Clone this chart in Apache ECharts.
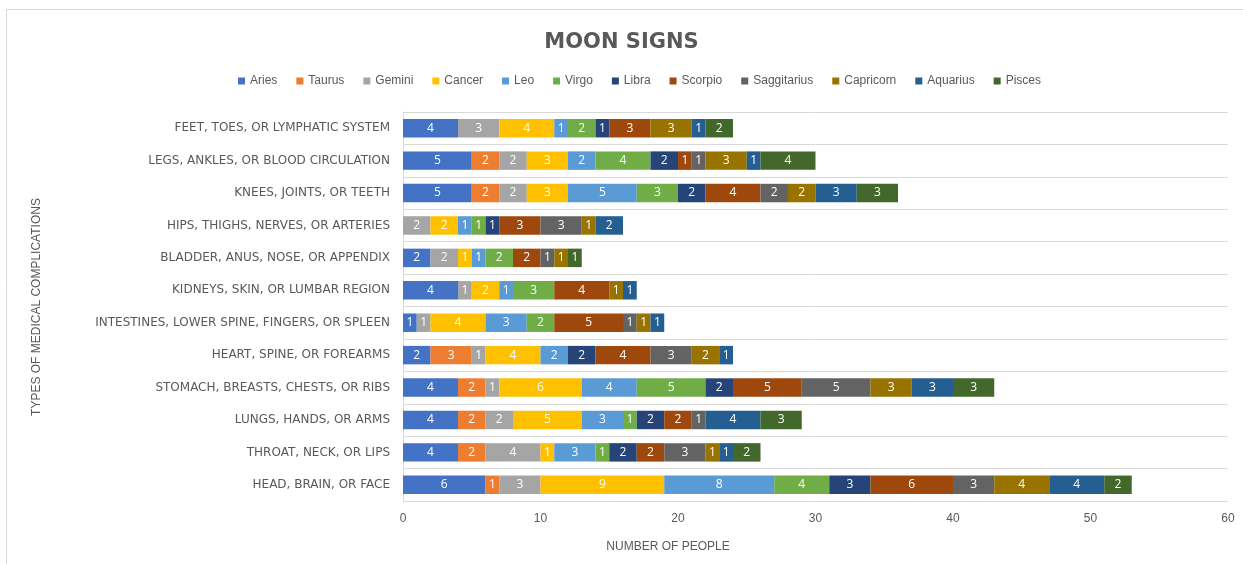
<!DOCTYPE html>
<html>
<head>
<meta charset="utf-8">
<script src="https://cdn.jsdelivr.net/npm/echarts@6/dist/echarts.min.js"></script>
<style>
  html, body { margin: 0; padding: 0; background: #fff; }
  #chart { width: 1243px; height: 564px; }
</style>
</head>
<body>
<div id="chart"></div>
<script>
// categories, bottom to top as in the picture
const categories = [
  'HEAD, BRAIN, OR FACE',
  'THROAT, NECK, OR LIPS',
  'LUNGS, HANDS, OR ARMS',
  'STOMACH, BREASTS, CHESTS, OR RIBS',
  'HEART, SPINE, OR FOREARMS',
  'INTESTINES, LOWER SPINE, FINGERS, OR SPLEEN',
  'KIDNEYS, SKIN, OR LUMBAR REGION',
  'BLADDER, ANUS, NOSE, OR APPENDIX',
  'HIPS, THIGHS, NERVES, OR ARTERIES',
  'KNEES, JOINTS, OR TEETH',
  'LEGS, ANKLES, OR BLOOD CIRCULATION',
  'FEET, TOES, OR LYMPHATIC SYSTEM'
]

const signs = ['Aries', 'Taurus', 'Gemini', 'Cancer', 'Leo', 'Virgo', 'Libra', 'Scorpio', 'Saggitarius', 'Capricorn', 'Aquarius', 'Pisces']
const colors = ['#4472C4', '#ED7D31', '#A5A5A5', '#FFC000', '#5B9BD5', '#70AD47', '#264478', '#9E480E', '#636363', '#997300', '#255E91', '#43682B']

// one array per sign, same order as categories
const aries       = [6, 4, 4, 4, 2, 1, 4, 2, 0, 5, 5, 4]
const taurus      = [1, 2, 2, 2, 3, 0, 0, 0, 0, 2, 2, 0]
const gemini      = [3, 4, 2, 1, 1, 1, 1, 2, 2, 2, 2, 3]
const cancer      = [9, 1, 5, 6, 4, 4, 2, 1, 2, 3, 3, 4]
const leo         = [8, 3, 3, 4, 2, 3, 1, 1, 1, 5, 2, 1]
const virgo       = [4, 1, 1, 5, 0, 2, 3, 2, 1, 3, 4, 2]
const libra       = [3, 2, 2, 2, 2, 0, 0, 0, 1, 2, 2, 1]
const scorpio     = [6, 2, 2, 5, 4, 5, 4, 2, 3, 4, 1, 3]
const saggitarius = [3, 3, 1, 5, 3, 1, 0, 1, 3, 2, 1, 0]
const capricorn   = [4, 1, 0, 3, 2, 1, 1, 1, 1, 2, 3, 3]
const aquarius    = [4, 1, 4, 3, 1, 1, 1, 0, 2, 3, 1, 1]
const pisces      = [2, 2, 3, 3, 0, 0, 0, 1, 0, 3, 4, 2]

const values = [aries, taurus, gemini, cancer, leo, virgo, libra, scorpio, saggitarius, capricorn, aquarius, pisces]

const xTicks = { min: 0, max: 60, interval: 10 }

const textColor = '#595959'

const series = signs.map((name, i) => ({
  name,
  type: 'bar',
  stack: 'total',
  barCategoryGap: '43%',
  itemStyle: { color: colors[i] },
  label: {
    show: true,
    color: '#fff',
    fontSize: 12,
    fontFamily: 'Open Sans',
    formatter: p => (p.value ? String(p.value) : '')
  },
  data: values[i]
}))

const chart = echarts.init(document.getElementById('chart'))
chart.setOption({
  animation: false,
  color: colors,
  title: {
    text: 'MOON SIGNS',
    left: 'center',
    top: 27,
    textStyle: { color: textColor, fontSize: 21, fontWeight: 'bold', fontFamily: 'DejaVu Sans' }
  },
  legend: {
    top: 70,
    left: 233,
    itemWidth: 7,
    itemHeight: 7,
    itemGap: 19,
    icon: 'rect',
    textStyle: { color: textColor, fontSize: 12, fontFamily: 'Liberation Sans Narrow, Liberation Sans' },
    data: signs
  },
  grid: { left: 403, right: 15, top: 112, bottom: 63 },
  xAxis: {
    type: 'value',
    min: xTicks.min,
    max: xTicks.max,
    interval: xTicks.interval,
    splitLine: { show: false },
    axisLine: { show: false },
    axisTick: { show: false },
    axisLabel: { color: textColor, fontSize: 12, margin: 12 }
  },
  yAxis: {
    type: 'category',
    data: categories,
    axisTick: { show: false },
    axisLine: { show: true, lineStyle: { color: '#d9d9d9' } },
    splitLine: { show: true, lineStyle: { color: '#d9d9d9', width: 1 } },
    axisLabel: { color: textColor, fontSize: 12, fontFamily: 'DejaVu Sans', margin: 13 }
  },
  graphic: [
    {
      type: 'rect',
      shape: { x: 6.5, y: 9.5, width: 1240, height: 560 },
      style: { fill: 'none', stroke: '#d9d9d9', lineWidth: 1 },
      silent: true
    },
    {
      type: 'text',
      x: 668,
      y: 547,
      style: { text: 'NUMBER OF PEOPLE', fill: textColor, fontSize: 12, align: 'center', verticalAlign: 'middle' }
    },
    {
      type: 'text',
      x: 37,
      y: 307,
      rotation: Math.PI / 2,
      style: { text: 'TYPES OF MEDICAL COMPLICATIONS', fill: textColor, fontSize: 12, align: 'center', verticalAlign: 'middle' }
    }
  ],
  series
})
</script>
</body>
</html>
